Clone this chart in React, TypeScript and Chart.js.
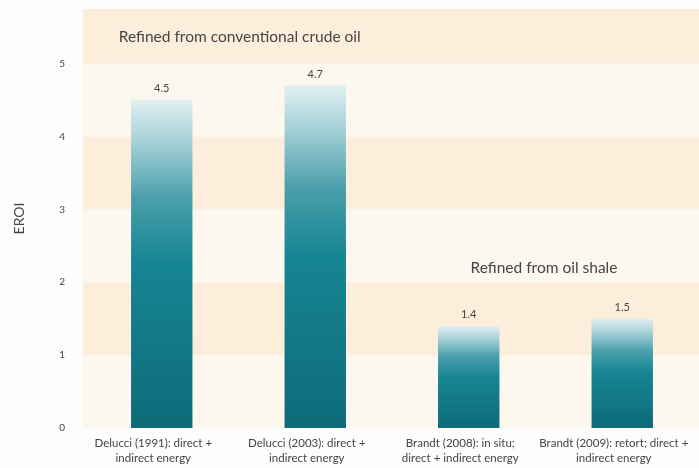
import React, { useEffect, useRef } from "react";
import { Chart, registerables } from "chart.js";

Chart.register(...registerables);

const categories: string[][] = [
  ["Delucci (1991): direct +", "indirect energy"],
  ["Delucci (2003): direct +", "indirect energy"],
  ["Brandt (2008): in situ;", "direct + indirect energy"],
  ["Brandt (2009): retort; direct +", "indirect energy"],
];
const eroi: number[] = [4.5, 4.7, 1.4, 1.5];
const valueLabels: string[] = ["4.5", "4.7", "1.4", "1.5"];
const yTicks: number[] = [0, 1, 2, 3, 4, 5];
const groupLabels: string[] = ["Refined from conventional crude oil", "Refined from oil shale"];
const yTitle = "EROI";

const FONT = "Lato, 'Open Sans', sans-serif";
const TEXT = "#454545";

const bandsPlugin = {
  id: "bands",
  beforeDraw(chart: any) {
    const { ctx, chartArea } = chart;
    const y = chart.scales.y;
    ctx.save();
    ctx.fillStyle = "#fdfdfb";
    ctx.fillRect(0, 0, chart.width, chart.height);
    const left = chartArea.left - 2;
    const right = chartArea.right;
    const maxV = y.max;
    for (let v = 0; v < maxV; v++) {
      const top = y.getPixelForValue(Math.min(v + 1, maxV));
      const bot = y.getPixelForValue(v);
      ctx.fillStyle = v % 2 === 0 ? "#fcf8f0" : "#fdeedb";
      ctx.fillRect(left, top, right - left, bot - top);
    }
    ctx.restore();
  },
};

const labelsPlugin = {
  id: "labelsDraw",
  afterDatasetsDraw(chart: any) {
    const { ctx } = chart;
    const x = chart.scales.x;
    const y = chart.scales.y;
    const step = x.getPixelForValue(1) - x.getPixelForValue(0);
    ctx.save();
    ctx.fillStyle = TEXT;
    ctx.font = `11px ${FONT}`;
    ctx.textAlign = "center";
    ctx.textBaseline = "bottom";
    eroi.forEach((v, i) => {
      ctx.fillText(valueLabels[i], x.getPixelForValue(i), y.getPixelForValue(v) - 6);
    });
    ctx.font = `11.5px ${FONT}`;
    ctx.textAlign = "center";
    ctx.textBaseline = "top";
    const base = y.getPixelForValue(0);
    categories.forEach((lines, i) => {
      const cx = x.getPixelForValue(i) - step * 0.055;
      lines.forEach((ln, j) => {
        ctx.fillText(ln, cx, base + 10 + j * 15);
      });
    });
    ctx.font = `15.5px ${FONT}`;
    ctx.textBaseline = "middle";
    ctx.textAlign = "left";
    ctx.fillText(groupLabels[0], x.getPixelForValue(0) - step * 0.28, y.getPixelForValue(5.36));
    ctx.textAlign = "center";
    ctx.fillText(groupLabels[1], x.getPixelForValue(2.49), y.getPixelForValue(2.2));
    ctx.restore();
  },
};

export default function App() {
  const ref = useRef<HTMLCanvasElement | null>(null);
  useEffect(() => {
    document.body.style.margin = "0";
    const canvas = ref.current!;
    const chart = new Chart(canvas, {
      type: "bar",
      data: {
        labels: categories.map((c) => c.join(" ")),
        datasets: [
          {
            data: eroi,
            barPercentage: 0.4,
            categoryPercentage: 1,
            borderWidth: 0,
            backgroundColor: (ctx: any) => {
              const c = ctx.chart;
              const ys = c.scales.y;
              if (!ys || !c.chartArea) return "#127a87";
              const top = ys.getPixelForValue(ctx.raw);
              const bot = ys.getPixelForValue(0);
              const g = c.ctx.createLinearGradient(0, top, 0, bot);
              g.addColorStop(0, "#e2f0f2");
              g.addColorStop(0.12, "#a9d2d9");
              g.addColorStop(0.3, "#4a9fab");
              g.addColorStop(0.5, "#168593");
              g.addColorStop(1, "#0e6b78");
              return g;
            },
          },
        ],
      },
      options: {
        animation: false,
        responsive: false,
        maintainAspectRatio: false,
        layout: { padding: { top: 9, bottom: 40, right: 0, left: 0 } },
        plugins: { legend: { display: false }, tooltip: { enabled: false } },
        scales: {
          x: {
            display: false,
            offset: true,
          },
          y: {
            min: 0,
            max: 5.75,
            grid: { display: false, drawTicks: false },
            border: { display: false },
            afterFit: (s: any) => {
              s.width = 85;
              s.paddingTop = 0;
              s.paddingBottom = 0;
            },
            afterBuildTicks: (s: any) => {
              s.ticks = yTicks.map((v) => ({ value: v }));
            },
            ticks: {
              padding: 20,
              color: TEXT,
              font: { family: FONT, size: 10 },
              callback: (v: any) => String(v),
            },
            title: {
              display: true,
              text: yTitle,
              color: TEXT,
              font: { family: FONT, size: 14 },
              padding: { top: 11, bottom: 0 },
            },
          },
        },
      },
      plugins: [bandsPlugin, labelsPlugin],
    });
    return () => chart.destroy();
  }, []);
  return (
    <div style={{ width: 699, height: 468 }}>
      <canvas ref={ref} width={699} height={468} style={{ display: "block", width: 699, height: 468 }} />
    </div>
  );
}
